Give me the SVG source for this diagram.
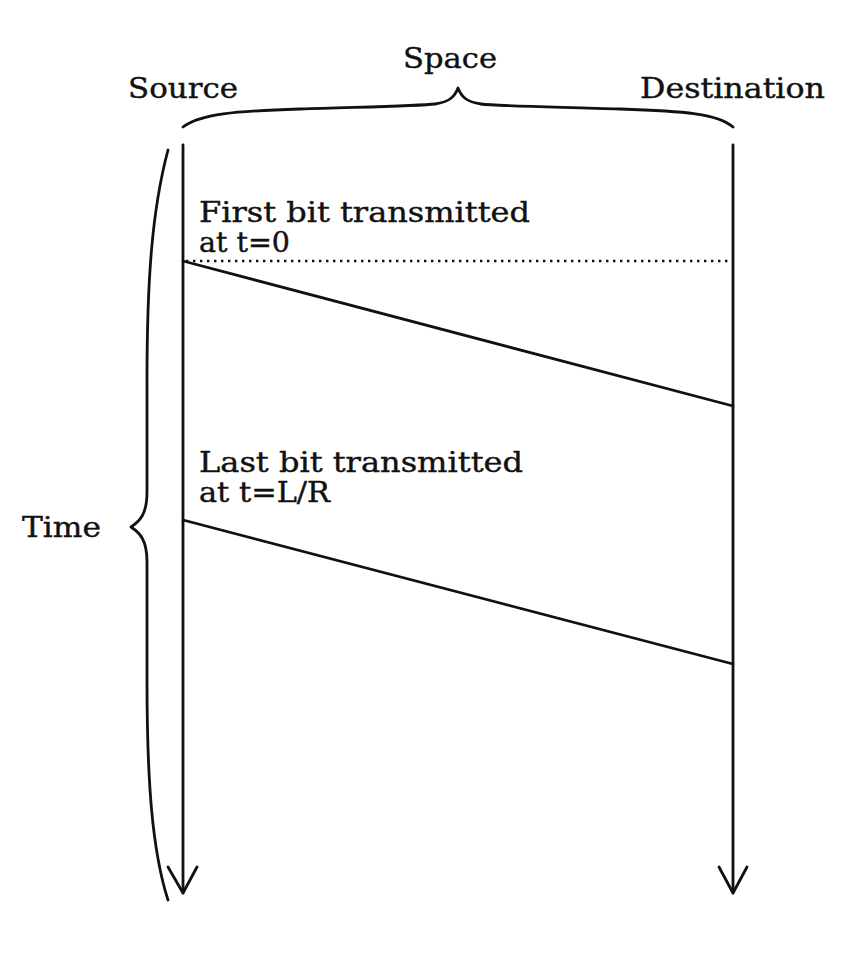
<svg xmlns="http://www.w3.org/2000/svg" width="842" height="958" viewBox="0 0 842 958">
<style>
.t{font-family:"DejaVu Serif","Liberation Serif",serif;font-size:28px;fill:#111;stroke:#111;stroke-width:0.4}
.ln{stroke:#111;stroke-width:2.8;fill:none;stroke-linecap:round;stroke-linejoin:round}
.dot{stroke:#111;stroke-width:2.4;fill:none;stroke-dasharray:2.4 4.6}
</style>
<rect width="842" height="958" fill="#fff"/>
<g id="labels">
<text class="t" x="403" y="68" textLength="94" lengthAdjust="spacingAndGlyphs">Space</text>
<text class="t" x="128" y="98" textLength="110" lengthAdjust="spacingAndGlyphs">Source</text>
<text class="t" x="640" y="98" textLength="185" lengthAdjust="spacingAndGlyphs">Destination</text>
<text class="t" x="22" y="537" textLength="79" lengthAdjust="spacingAndGlyphs">Time</text>
</g>
<g id="braces">
<path class="ln" d="M183,127 C200,114 235,111 300,109 C360,107 420,106 435,104 C450,102 455,96 458,88 C461,96 466,102 481,104 C496,106 560,107 620,109 C685,111 718,114 733,127"/>
<path class="ln" d="M168,150 C152,210 147,280 147,380 L147,492 C147,514 140,521 131,527 C140,533 147,540 147,562 L147,680 C147,780 152,850 168,900"/>
</g>
<g id="source">
<line class="ln" x1="183" y1="145" x2="183" y2="893"/>
<polyline class="ln" points="168,867 183,893 197,867"/>
</g>
<g id="destination">
<line class="ln" x1="733" y1="145" x2="733" y2="893"/>
<polyline class="ln" points="719,867 733,893 747,867"/>
</g>
<g id="first-bit">
<text class="t" x="199" y="222" textLength="331" lengthAdjust="spacingAndGlyphs">First bit transmitted</text>
<text class="t" x="199" y="252" textLength="91" lengthAdjust="spacingAndGlyphs">at t=0</text>
</g>
<g id="last-bit">
<text class="t" x="199" y="472" textLength="324" lengthAdjust="spacingAndGlyphs">Last bit transmitted</text>
<text class="t" x="199" y="502" textLength="131" lengthAdjust="spacingAndGlyphs">at t=L/R</text>
</g>
<g id="connectors">
<line class="dot" x1="186" y1="261" x2="728" y2="261"/>
<line class="ln" x1="183" y1="261" x2="733" y2="406"/>
<line class="ln" x1="183" y1="520" x2="733" y2="664"/>
</g>
</svg>
